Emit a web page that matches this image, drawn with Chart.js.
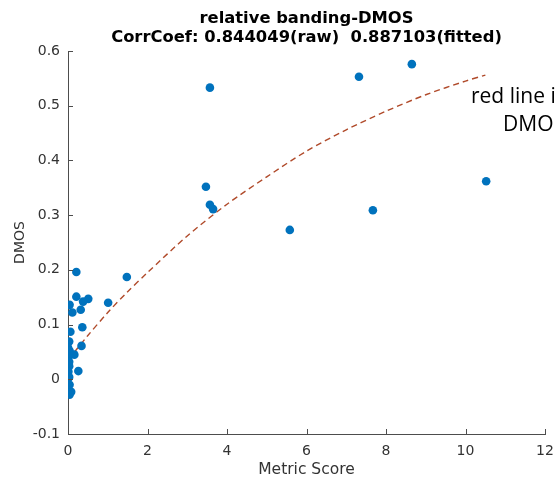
<!DOCTYPE html>
<html>
<head>
<meta charset="utf-8">
<script src="https://cdn.jsdelivr.net/npm/chart.js@4/dist/chart.umd.min.js"></script>
<style>
  html, body { margin: 0; padding: 0; background: #fff; }
  #wrap { position: relative; width: 558px; height: 482px; overflow: hidden; }
  .note { position: absolute; font-family: "Open Sans", sans-serif; font-size: 21px; color: #000; white-space: pre; line-height: 28px; }
</style>
</head>
<body>
<div id="wrap">
  <canvas id="myChart" width="558" height="482"></canvas>
  <div class="note" style="left:471px; top:81px;">red line i</div>
  <div class="note" style="left:503px; top:109px;">DMO</div>
</div>
<script>
// scatter: metric score vs DMOS
let metricScore = [3.57, 7.32, 8.65, 10.52, 7.67, 5.58, 3.47, 3.57, 3.65, 1.48, 1.01,
    0.21, 0.21, 0.51, 0.38, 0.04, 0.11, 0.32, 0.36, 0.06, 0.03, 0.34, 0.00, 0.04,
    0.16, 0.01, 0.03, 0.03, 0.26, 0.01, 0.03, 0.04, 0.08, 0.04];
let dmos = [0.533, 0.553, 0.576, 0.362, 0.309, 0.273, 0.352, 0.319, 0.311, 0.187, 0.140,
    0.196, 0.151, 0.147, 0.142, 0.136, 0.122, 0.127, 0.095, 0.087, 0.069, 0.061, 0.058, 0.052,
    0.045, 0.041, 0.032, 0.024, 0.015, 0.014, 0.004, -0.010, -0.023, -0.028];

// fitted curve (red dashed)
let fitX = [0, 0.5, 1, 1.5, 2, 3, 4, 5, 6, 7, 8, 9, 10, 10.5];
let fitY = [0.035, 0.080, 0.122, 0.160, 0.195, 0.262, 0.320, 0.370, 0.417, 0.456, 0.490, 0.520, 0.545, 0.556];

let xTicks = [0, 2, 4, 6, 8, 10, 12];
let yTicks = [-0.1, 0, 0.1, 0.2, 0.3, 0.4, 0.5, 0.6];

let titleLines = ['relative banding-DMOS', 'CorrCoef: 0.844049(raw)  0.887103(fitted)'];

let scatterData = [];
for (let i = 0; i < metricScore.length; i++) {
    scatterData.push({ x: metricScore[i], y: dmos[i] });
}
let fitData = [];
for (let i = 0; i < fitX.length; i++) {
    fitData.push({ x: fitX[i], y: fitY[i] });
}

const axisColor = '#4d4d4d';
const textColor = '#333333';

// MATLAB style ticks pointing into the plot
const innerTicks = {
    id: 'innerTicks',
    afterDraw(chart) {
        const ctx = chart.ctx;
        const xs = chart.scales.x, ys = chart.scales.y;
        const area = chart.chartArea;
        ctx.save();
        ctx.strokeStyle = axisColor;
        ctx.lineWidth = 1;
        ctx.beginPath();
        xTicks.forEach(v => {
            const px = Math.round(xs.getPixelForValue(v)) + 0.5;
            ctx.moveTo(px, area.bottom);
            ctx.lineTo(px, area.bottom - 5);
        });
        yTicks.forEach(v => {
            const py = Math.round(ys.getPixelForValue(v)) + 0.5;
            ctx.moveTo(area.left, py);
            ctx.lineTo(area.left + 5, py);
        });
        ctx.stroke();
        ctx.restore();
    }
};

// title centred over the axes, like matlab
const axesTitle = {
    id: 'axesTitle',
    afterDraw(chart) {
        const ctx = chart.ctx;
        const area = chart.chartArea;
        const cx = (area.left + area.right) / 2;
        ctx.save();
        ctx.fillStyle = '#000';
        ctx.font = 'bold 15px "DejaVu Sans"';
        ctx.textAlign = 'center';
        ctx.textBaseline = 'alphabetic';
        const baselines = [23, 41.5];
        titleLines.forEach((line, i) => {
            ctx.save();
            ctx.translate(cx, baselines[i]);
            ctx.scale(1.09, 1);
            ctx.fillText(line, 0, 0);
            ctx.restore();
        });
        ctx.restore();
    }
};

const ctx = document.getElementById('myChart').getContext('2d');
const myChart = new Chart(ctx, {
    type: 'scatter',
    data: {
        datasets: [{
            label: 'data',
            data: scatterData,
            backgroundColor: '#0072BD',
            borderColor: '#0072BD',
            pointRadius: 4.3,
            pointBorderWidth: 0
        }, {
            label: 'fitted',
            type: 'line',
            data: fitData,
            showLine: true,
            borderColor: '#b04a2a',
            borderWidth: 1.4,
            borderDash: [6, 4],
            pointRadius: 0,
            tension: 0.3,
            fill: false
        }]
    },
    options: {
        responsive: false,
        animation: false,
        layout: { padding: { left: 0, right: 0, top: 51, bottom: 0 } },
        plugins: {
            legend: { display: false },
            tooltip: { enabled: false },
            title: { display: false }
        },
        scales: {
            x: {
                type: 'linear',
                min: 0,
                max: 12,
                afterBuildTicks: s => { s.ticks = xTicks.map(v => ({ value: v })); },
                afterFit: s => { s.height = 48; s.paddingLeft = 0; s.paddingRight = 13; },
                grid: { display: false, drawTicks: false },
                border: { display: true, color: axisColor, width: 1 },
                ticks: { color: textColor, padding: 9, font: { family: 'DejaVu Sans', size: 14 } },
                title: {
                    display: true,
                    text: 'Metric Score',
                    color: textColor,
                    font: { family: 'DejaVu Sans', size: 15.5 },
                    padding: { top: 0, bottom: 3 }
                }
            },
            y: {
                type: 'linear',
                min: -0.1,
                max: 0.6,
                afterBuildTicks: s => { s.ticks = yTicks.map(v => ({ value: v })); },
                afterFit: s => { s.width = 68; },
                grid: { display: false, drawTicks: false },
                border: { display: true, color: axisColor, width: 1 },
                ticks: {
                    color: textColor,
                    padding: 8,
                    font: { family: 'DejaVu Sans', size: 14 },
                    callback: v => String(Math.round(v * 10) / 10)
                },
                title: {
                    display: true,
                    text: 'DMOS',
                    color: textColor,
                    font: { family: 'DejaVu Sans', size: 14 },
                    padding: { top: 12, bottom: 0 }
                }
            }
        }
    },
    plugins: [innerTicks, axesTitle]
});
</script>
</body>
</html>
